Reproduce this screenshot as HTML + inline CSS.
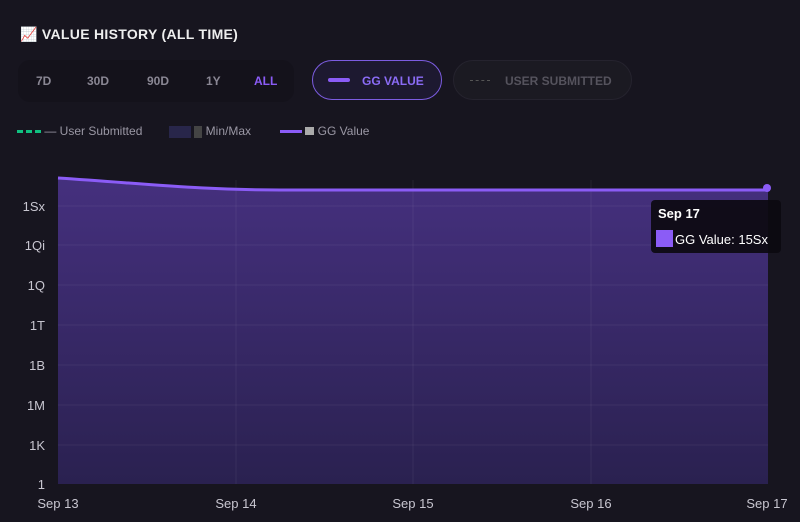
<!DOCTYPE html>
<html><head><style>
body{margin:0;width:800px;height:522px;background:#17151f;font-family:"Liberation Sans",sans-serif;overflow:hidden;position:relative;color:#ddd}
.t{position:absolute;left:20px;top:26px;font-weight:bold;font-size:14px;color:#eee;letter-spacing:.3px}
.rng{position:absolute;left:18px;top:60px;width:276px;height:42px;background:#14121b;border-radius:12px}
.rng span{position:absolute;top:14px;font-size:12px;font-weight:bold;color:#8a8794}
.b{position:absolute;top:60px;height:40px;border-radius:21px;font-size:12px;font-weight:bold;box-sizing:border-box}
.lg{position:absolute;top:124px;font-size:12px;color:#9a97a4}
</style></head><body>
<div class="t"><span style="color:#e55">📈</span> VALUE HISTORY (ALL TIME)</div>
<div class="rng"><span style="left:18px">7D</span><span style="left:69px">30D</span><span style="left:129px">90D</span><span style="left:188px">1Y</span><span style="left:236px;color:#8b5cf6">ALL</span></div>
<div class="b" style="left:312px;width:130px;border:1.5px solid #7c5ce0;background:#1d1930;color:#8b6cf6"><span style="position:absolute;left:15px;top:17px;width:22px;height:4px;background:#8b5cf6;border-radius:2px"></span><span style="position:absolute;left:49px;top:13px">GG VALUE</span></div>
<div class="b" style="left:453px;width:179px;border:1px solid #25232e;background:#1b1a22;color:#55535d"><span style="position:absolute;left:16px;top:19px;width:20px;border-top:1px dashed #555"></span><span style="position:absolute;left:51px;top:13px">USER SUBMITTED</span></div>
<div class="lg" style="left:17px"><span style="display:inline-block;width:24px;border-top:3px dashed #10c080;vertical-align:middle"></span> — User Submitted</div>
<div class="lg" style="left:169px"><span style="display:inline-block;width:22px;height:12px;background:#28264a;vertical-align:middle"></span> <span style="display:inline-block;width:8px;height:12px;background:#444;vertical-align:middle"></span> Min/Max</div>
<div class="lg" style="left:280px"><span style="display:inline-block;width:22px;height:3px;background:#8b5cf6;vertical-align:middle"></span> <span style="display:inline-block;width:9px;height:8px;background:#aaa"></span> GG Value</div>
<svg width="800" height="522" style="position:absolute;left:0;top:0">
<defs><linearGradient id="g" x1="0" y1="0" x2="0" y2="1"><stop offset="0" stop-color="#45307e"/><stop offset="1" stop-color="#2a2150"/></linearGradient></defs>
<path d="M58 178 C150 184,200 190,280 190 L768 190 L768 484 L58 484Z" fill="url(#g)"/>
<g stroke="#ffffff" stroke-opacity=".06">
<line x1="58" x2="768" y1="206" y2="206"/><line x1="58" x2="768" y1="245" y2="245"/><line x1="58" x2="768" y1="285" y2="285"/><line x1="58" x2="768" y1="325" y2="325"/><line x1="58" x2="768" y1="365" y2="365"/><line x1="58" x2="768" y1="405" y2="405"/><line x1="58" x2="768" y1="445" y2="445"/>
<line x1="236" x2="236" y1="180" y2="484"/><line x1="413" x2="413" y1="180" y2="484"/><line x1="591" x2="591" y1="180" y2="484"/></g>
<path d="M58 178 C150 184,200 190,280 190 L766 190" stroke="#8b5cf6" stroke-width="3" fill="none"/>
<circle cx="767" cy="188" r="4" fill="#8b5cf6"/>
<g fill="#c8c6d0" font-size="13" text-anchor="end">
<text x="45" y="211">1Sx</text><text x="45" y="250">1Qi</text><text x="45" y="290">1Q</text><text x="45" y="330">1T</text><text x="45" y="370">1B</text><text x="45" y="410">1M</text><text x="45" y="450">1K</text><text x="45" y="489">1</text></g>
<g fill="#c8c6d0" font-size="13" text-anchor="middle">
<text x="58" y="508">Sep 13</text><text x="236" y="508">Sep 14</text><text x="413" y="508">Sep 15</text><text x="591" y="508">Sep 16</text><text x="767" y="508">Sep 17</text></g>
<rect x="651" y="200" width="130" height="53" rx="4" fill="#0c0a10" fill-opacity=".92"/>
<text x="658" y="218" fill="#fff" font-weight="bold" font-size="13">Sep 17</text>
<rect x="656" y="230" width="17" height="17" fill="#8b5cf6"/>
<text x="675" y="244" fill="#fff" font-size="13">GG Value: 15Sx</text>
</svg>
</body></html>
